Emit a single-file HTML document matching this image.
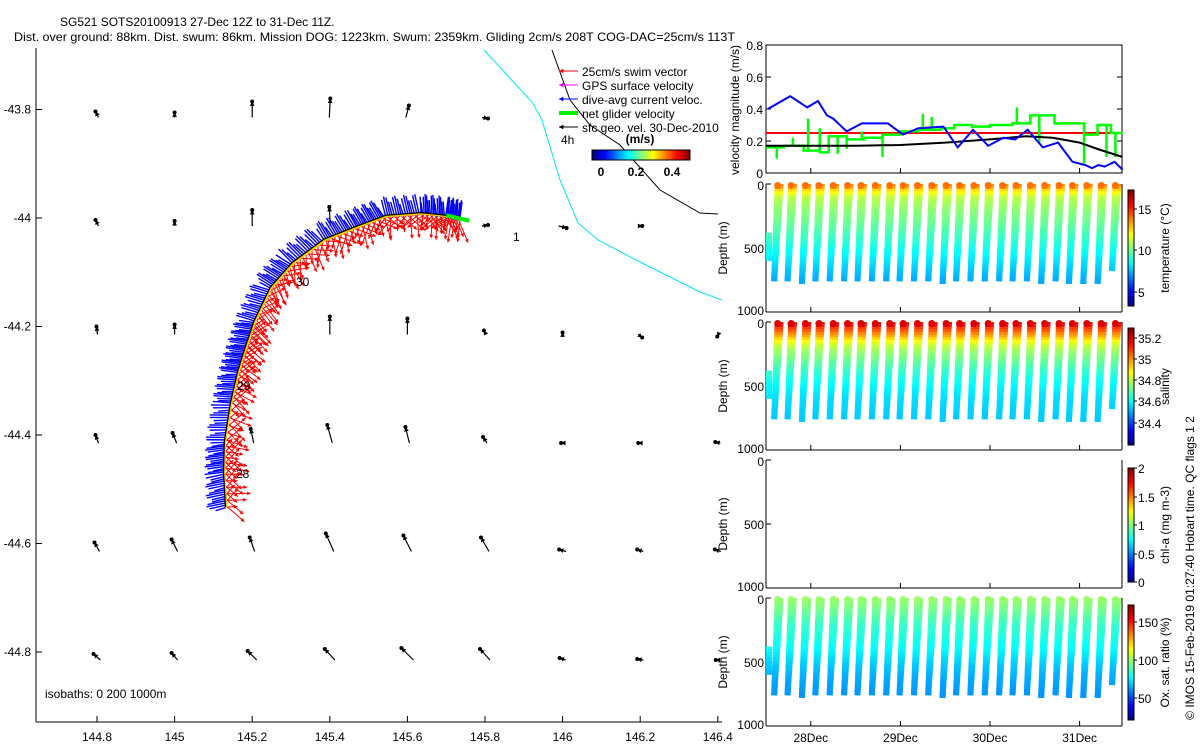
<!DOCTYPE html>
<html><head><meta charset="utf-8"><style>
body{margin:0;background:#fff}
svg{display:block;font-family:"Liberation Sans",sans-serif}
text{font-size:12px;fill:#000}
</style></head><body>
<svg id="s" width="1200" height="750" xmlns="http://www.w3.org/2000/svg">
<rect width="1200" height="750" fill="#fff"/>
<text x="60" y="26">SG521 SOTS20100913 27-Dec 12Z to 31-Dec 11Z.</text>
<text x="14" y="41" textLength="721" lengthAdjust="spacingAndGlyphs">Dist. over ground: 88km. Dist. swum: 86km. Mission DOG: 1223km. Swum: 2359km. Gliding 2cm/s 208T COG-DAC=25cm/s 113T</text>
<g id="map"></g>
<g id="vel"></g>
<g id="prof"></g>
<text transform="translate(1194,568) rotate(-90)" text-anchor="middle">© IMOS 15-Feb-2019 01:27:40 Hobart time. QC flags 1  2</text>
</svg>
<script>
const NS="http://www.w3.org/2000/svg";
// ---- data ----
const lonTicks=[144.8,145,145.2,145.4,145.6,145.8,146,146.2,146.4];
const latTicks=[-43.8,-44,-44.2,-44.4,-44.6,-44.8];
const trackLon=[145.131,145.126,145.128,145.144,145.162,145.182,145.205,145.246,145.303,145.385,145.469,145.544,145.636,145.700,145.738];
const trackLat=[-44.533,-44.468,-44.413,-44.340,-44.284,-44.238,-44.189,-44.128,-44.082,-44.039,-44.015,-43.995,-43.990,-43.995,-44.003];
const geoDx=[
[3,0,0,-1,-3,-6,0,0,0],
[3,0,0,1,0,-6,-8,-4,0],
[1,0,0,0,0,2,0,-4,1],
[3,4,3,5,4,4,3,4,5],
[5,6,5,8,8,8,7,6,6],
[7,6,9,10,12,10,6,6,4]];
const geoDy=[
[4,3,14,17,10,-3,0,0,0],
[4,3,14,17,0,-1,-4,-2,0],
[6,8,0,16,14,2,0,-5,-4],
[6,8,12,16,14,4,-2,-2,-1],
[7,10,12,16,14,12,0,0,0],
[4,5,7,9,10,9,0,-1,-2]];
const geoShow=[
[1,1,1,1,1,1,0,0,0],
[1,1,1,1,0,1,1,1,0],
[1,1,0,1,1,1,1,1,1],
[1,1,1,1,1,1,1,1,1],
[1,1,1,1,1,1,1,1,1],
[1,1,1,1,1,1,1,1,1]];
const blueDay=[27.52,27.77,27.96,28.08,28.18,28.25,28.40,28.57,28.86,29.03,29.20,29.48,29.64,29.81,29.98,30.15,30.28,30.42,30.59,30.76,30.92,31.06,31.14,31.21,31.28,31.39,31.48];
const blueVal=[0.40,0.48,0.41,0.45,0.36,0.34,0.26,0.31,0.31,0.24,0.28,0.29,0.16,0.27,0.17,0.22,0.21,0.27,0.16,0.19,0.07,0.05,0.03,0.05,0.04,0.07,0.02];
const blackDay=[27.5,28.0,28.5,29.0,29.5,30.0,30.4,30.7,31.0,31.2,31.48];
const blackVal=[0.17,0.17,0.17,0.175,0.19,0.21,0.23,0.22,0.19,0.15,0.10];
const redVal=0.25;
const greenDay=[27.5,27.7,27.92,28.1,28.2,28.4,28.6,28.8,29.0,29.2,29.45,29.6,29.8,30.0,30.25,30.45,30.72,30.88,31.05,31.2,31.35,31.48];
const greenVal=[0.16,0.17,0.14,0.13,0.23,0.21,0.22,0.24,0.26,0.27,0.28,0.30,0.29,0.30,0.31,0.36,0.31,0.31,0.24,0.30,0.25,0.25];
const spikeDay=[27.62,27.8,27.97,28.1,28.3,28.4,28.57,28.8,29.25,29.35,30.3,30.55,30.75,31.05,31.3,31.4];
const spikeVal=[0.09,0.22,0.34,0.28,0.12,0.15,0.26,0.10,0.37,0.35,0.41,0.19,0.30,0.06,0.10,0.10];
const velTicks=[0,0.2,0.4,0.6,0.8];
const dateTicks=[28,29,30,31];
const dateLabels=["28Dec","29Dec","30Dec","31Dec"];
const diveTop=[27.63,27.78,27.94,28.09,28.25,28.41,28.56,28.72,28.88,29.03,29.19,29.35,29.51,29.66,29.82,29.98,30.14,30.29,30.45,30.61,30.77,30.92,31.08,31.24,31.40];
const diveMax=[760,750,770,750,750,760,750,760,760,750,760,750,770,760,760,750,760,760,760,770,760,770,770,780,680];
const profDepth=[0,50,100,150,200,300,400,500,600,750];
const tempProf=[14.0,12.5,11.2,10.8,10.5,10.0,9.4,8.8,8.2,7.4];
const salProf=[35.2,35.1,35.0,34.88,34.8,34.72,34.65,34.6,34.57,34.55];
const oxProf=[100,97,94,90,86,82,77,71,66,62];
// ---- helpers ----
function mk(tag,at,parent){const e=document.createElementNS(NS,tag);for(const k in at)e.setAttribute(k,at[k]);parent.appendChild(e);return e;}
function jet(t){t=Math.max(0,Math.min(1,t));const f=x=>Math.round(255*Math.max(0,Math.min(1,1.5-Math.abs(4*t-x))));return `rgb(${f(3)},${f(2)},${f(1)})`;}
// ---- map ----
const map=document.getElementById('map');
const X=lon=>97+(lon-144.8)*388, Y=lat=>652-(lat+44.8)*542.5;
mk('line',{x1:36,y1:48,x2:36,y2:722,stroke:'#000'},map);
mk('line',{x1:36,y1:722,x2:722,y2:722,stroke:'#000'},map);
lonTicks.forEach(v=>{const x=X(v);mk('line',{x1:x,y1:722,x2:x,y2:716,stroke:'#000'},map);
 const t=mk('text',{x:x,y:741,'text-anchor':'middle'},map);t.textContent=v;
 });
latTicks.forEach(v=>{const y=Y(v);mk('line',{x1:36,y1:y,x2:42,y2:y,stroke:'#000'},map);
 const t=mk('text',{x:31,y:y+4,'text-anchor':'end'},map);t.textContent=v;
 });
const isob=mk('text',{x:45,y:698},map);isob.textContent='isobaths: 0   200  1000m';isob.setAttribute('xml:space','preserve');

mk('polyline',{points:'484,50 532,102 542,120 560,180 578,223 598,240 640,262 700,292 722,300',fill:'none',stroke:'#00e5ff','stroke-width':1},map);
mk('polyline',{points:'552,50 570,100 590,125 620,145 660,190 700,213 718,214',fill:'none',stroke:'#000','stroke-width':1},map);
function arrow(g,x1,y1,x2,y2,col,w,head){mk('line',{x1:x1,y1:y1,x2:x2,y2:y2,stroke:col,'stroke-width':w},g);
 const a=Math.atan2(y2-y1,x2-x1),h=head;
 mk('polygon',{points:`${x2},${y2} ${x2-h*Math.cos(a-0.5)},${y2-h*Math.sin(a-0.5)} ${x2-h*Math.cos(a+0.5)},${y2-h*Math.sin(a+0.5)}`,fill:col},g);}
latTicks.forEach((la,r)=>lonTicks.forEach((lo,c)=>{if(!geoShow[r][c])return;
 const x=X(lo),y=Y(la)+8,g=mk('g',{},map);
 const x1=x+geoDx[r][c]*0.5,y1=y,x2=x-geoDx[r][c]*0.5,y2=y-geoDy[r][c]-2;
 arrow(g,x1,y1,x2,y2,'#000',1.2,5);
 mk('circle',{cx:x2,cy:y2,r:2,fill:'#000'},g);}));
const tg=mk('g',{},map);
const tx=trackLon.map(X),ty=trackLat.map(Y);
let pts=[];for(let i=0;i<tx.length-1;i++){for(let k=0;k<16;k++){const f=k/16;pts.push([tx[i]+(tx[i+1]-tx[i])*f,ty[i]+(ty[i+1]-ty[i])*f,i]);}}
pts.forEach((p,j)=>{const i=p[2];const dx=tx[i+1]-tx[i],dy=ty[i+1]-ty[i],L=Math.hypot(dx,dy);const nx=-dy/L,ny=dx/L;
 const rl=12+14*Math.abs(Math.sin(j*1.3)),tw=0.9*Math.sin(j*2.1);
 const ex=p[0]+rl*(nx*Math.cos(tw)-ny*Math.sin(tw)),ey=p[1]+rl*(nx*Math.sin(tw)+ny*Math.cos(tw));
 arrow(tg,p[0],p[1],ex,ey,'#ff0000',1,4);});
pts.forEach((p,j)=>{const i=p[2];const dx=tx[i+1]-tx[i],dy=ty[i+1]-ty[i],L=Math.hypot(dx,dy);const nx=dy/L,ny=-dx/L;
 const bl=10+9*Math.abs(Math.sin(j*0.7));
 mk('line',{x1:p[0]-nx*2,y1:p[1]-ny*2,x2:p[0]+nx*bl-dx/L*3,y2:p[1]+ny*bl-dy/L*3,stroke:'#0000ff','stroke-width':1.4},tg);});
mk('polyline',{points:tx.map((x,i)=>x+1+','+(ty[i]+1)).join(' '),fill:'none',stroke:'#ffd000','stroke-width':2},tg);
mk('polyline',{points:tx.map((x,i)=>x+','+ty[i]).join(' '),fill:'none',stroke:'#000','stroke-width':1.3},tg);
mk('line',{x1:X(145.70),y1:Y(-43.995),x2:X(145.76),y2:Y(-44.005),stroke:'#00ee00','stroke-width':4},tg);
[['28',236,478],['29',237,390],['30',296,286],['1',513,241]].forEach(d=>{const t=mk('text',{x:d[1],y:d[2]},map);t.textContent=d[0];});
const lg=mk('g',{},map);
const legT=['25cm/s swim vector','GPS surface velocity','dive-avg current veloc.','net glider velocity','sfc geo. vel. 30-Dec-2010'];
const legC=['#ff0000','#ff00ff','#0000ff','#00ee00','#000'];
legT.forEach((s,i)=>{const y=71+i*14;arrow(lg,578,y,559,y,legC[i],i==3?4:1,5);
 const t=mk('text',{x:582,y:y+5},lg);t.textContent=s;});
const h4=mk('text',{x:561,y:144},lg);h4.textContent='4h';
for(let i=0;i<98;i++)mk('rect',{x:592+i,y:150,width:1.2,height:10,fill:jet(i/97)},lg);
mk('rect',{x:592,y:150,width:98,height:10,fill:'none',stroke:'#000'},lg);
[['0',601],['0.2',636],['0.4',672]].forEach(d=>{const t=mk('text',{x:d[1],y:176,'text-anchor':'middle','font-weight':'bold'},lg);t.textContent=d[0];});
const ms=mk('text',{x:640,y:143,'text-anchor':'middle','font-weight':'bold'},lg);ms.textContent='(m/s)';
// ---- velocity panel ----
const vel=document.getElementById('vel');
const DX=d=>766+(d-27.5)*89.6, VY=v=>173-v*160;
mk('rect',{x:766,y:45,width:356,height:128,fill:'none',stroke:'#000'},vel);
velTicks.forEach(v=>{const y=VY(v);mk('line',{x1:766,y1:y,x2:771,y2:y,stroke:'#000'},vel);mk('line',{x1:1117,y1:y,x2:1122,y2:y,stroke:'#000'},vel);
 const t=mk('text',{x:763,y:y+5,'text-anchor':'end'},vel);t.textContent=v;});
const vt=mk('text',{transform:'translate(739,110) rotate(-90)','text-anchor':'middle'},vel);vt.textContent='velocity magnitude (m/s)';

mk('line',{x1:766,y1:VY(redVal),x2:1122,y2:VY(redVal),stroke:'#ff0000','stroke-width':2},vel);
let gp=[];greenDay.forEach((d,i)=>{if(i>0)gp.push(DX(d)+','+VY(greenVal[i-1]));gp.push(DX(d)+','+VY(greenVal[i]));});
mk('polyline',{points:gp.join(' '),fill:'none',stroke:'#00ff00','stroke-width':2.5},vel);
spikeDay.forEach((d,i)=>{let j=0;while(j<greenDay.length-1&&greenDay[j+1]<=d)j++;
 mk('line',{x1:DX(d),y1:VY(greenVal[j]),x2:DX(d),y2:VY(spikeVal[i]),stroke:'#00ff00','stroke-width':2.5},vel);});
mk('polyline',{points:blackDay.map((d,i)=>DX(d)+','+VY(blackVal[i])).join(' '),fill:'none',stroke:'#000','stroke-width':2},vel);
mk('polyline',{points:blueDay.map((d,i)=>DX(d)+','+VY(blueVal[i])).join(' '),fill:'none',stroke:'#0000ff','stroke-width':2},vel);
// ---- profile panels ----
const prof=document.getElementById('prof');
const panels=[
 {y0:184,prof:tempProf,min:3.3,max:17.3,ticks:[[15,209],[10,250],[5,292]],label:'temperature (°C)',name:'temperature'},
 {y0:322,prof:salProf,min:34.19,max:35.3,ticks:[[35.2,338],[35,359],[34.8,380],[34.6,401],[34.4,423]],label:'salinity',name:'salinity'},
 {y0:460,prof:null,min:0,max:2,ticks:[[2,468],[1.5,497],[1,525],[0.5,554],[0,582]],label:'chl-a (mg m-3)',name:'chlorophyll'},
 {y0:598,prof:oxProf,min:21,max:172,ticks:[[150,622],[100,660],[50,698]],label:'Ox. sat. ratio (%)',name:'oxygen'}];
const barTop=[190,328,468,605],barBot=[306,445,582,720];
function interp(d,arr){for(let i=0;i<profDepth.length-1;i++){if(d<=profDepth[i+1]){const f=(d-profDepth[i])/(profDepth[i+1]-profDepth[i]);return arr[i]+f*(arr[i+1]-arr[i]);}}return arr[arr.length-1];}
panels.forEach((P,pi)=>{const g=mk('g',{},prof);
 const DY=d=>P.y0+d*0.128;
 mk('line',{x1:766,y1:P.y0,x2:766,y2:P.y0+128,stroke:'#000'},g);mk('line',{x1:766,y1:P.y0+128,x2:1122,y2:P.y0+128,stroke:'#000'},g);
 mk('line',{x1:1122,y1:P.y0,x2:1122,y2:P.y0+128,stroke:'#000'},g);
 [0,500,1000].forEach(v=>{const y=DY(v);mk('line',{x1:766,y1:y,x2:771,y2:y,stroke:'#000'},g);
  const t=mk('text',{x:764,y:y+(v==0?6:v==1000?3:5),'text-anchor':'end'},g);t.textContent=v;});
 const yt=mk('text',{transform:`translate(727,${P.y0+64}) rotate(-90)`,'text-anchor':'middle'},g);yt.textContent='Depth (m)';
 
 if(P.prof){
  const col=d=>jet((interp(d,P.prof)-P.min)/(P.max-P.min));
  for(let d=380;d<600;d+=20)mk('line',{x1:769,y1:DY(d),x2:769,y2:DY(d+20),stroke:col(d+10),'stroke-width':6},g);
  diveTop.forEach((td,k)=>{const xt=DX(td),xb=xt-3.5,xn=xt+3,mx=diveMax[k];
   for(let d=0;d<mx;d+=20){const c=col(d+10);
    const f1=d/mx,f2=Math.min(1,(d+20)/mx);
    mk('line',{x1:xt+(xb-xt)*f1,y1:DY(d),x2:xt+(xb-xt)*f2,y2:DY(d+20),stroke:c,'stroke-width':6},g);
    mk('line',{x1:xn+(xb-xn)*f1,y1:DY(d),x2:xn+(xb-xn)*f2,y2:DY(d+20),stroke:c,'stroke-width':6},g);}
   mk('circle',{cx:xt,cy:DY(12),r:3.5,fill:col(0)},g);});}
 const bt=barTop[pi],bb=barBot[pi];
 for(let y=bt;y<bb;y++)mk('rect',{x:1128,y:y,width:6,height:1.2,fill:jet((bb-y)/(bb-bt))},g);
 mk('rect',{x:1128,y:bt,width:6,height:bb-bt,fill:'none',stroke:'#000'},g);
 P.ticks.forEach(tk=>{mk('line',{x1:1134,y1:tk[1],x2:1137,y2:tk[1],stroke:'#000'},g);
  const t=mk('text',{x:1138,y:tk[1]+5},g);t.textContent=tk[0];});
 const cl=mk('text',{transform:`translate(1169,${(bt+bb)/2}) rotate(-90)`,'text-anchor':'middle'},g);cl.textContent=P.label;
 
});
dateTicks.forEach((d,i)=>{const x=DX(d);[45,184,322,460,598].forEach(y0=>{mk('line',{x1:x,y1:y0+128,x2:x,y2:y0+123,stroke:'#000'},prof);});
 const t=mk('text',{x:x,y:742,'text-anchor':'middle'},prof);t.textContent=dateLabels[i];});
</script>
</body></html>
